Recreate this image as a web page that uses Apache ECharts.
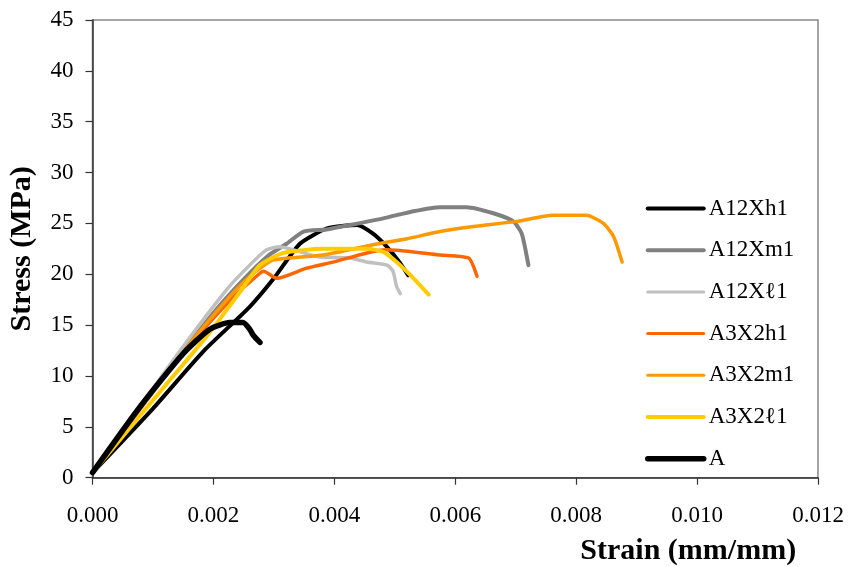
<!DOCTYPE html>
<html>
<head>
<meta charset="utf-8">
<script src="https://cdn.jsdelivr.net/npm/echarts@6/dist/echarts.min.js"></script>
<style>
html,body{margin:0;padding:0;background:#fff;}
#chart{width:848px;height:567px;}
</style>
</head>
<body>
<div id="chart"></div>
<script>
// Series names (legend order)
const seriesNames = ['A12Xh1', 'A12Xm1', 'A12X\u21131', 'A3X2h1', 'A3X2m1', 'A3X2\u21131', 'A'];
const seriesColors = ['#000000', '#808080', '#C0C0C0', '#FF6600', '#FF9900', '#FFCC00', '#000000'];

// Axis ticks
const xTicks = [0.000, 0.002, 0.004, 0.006, 0.008, 0.010, 0.012];
const yTicks = [0, 5, 10, 15, 20, 25, 30, 35, 40, 45];

// A12Xh1
const a12xh1Strain = [0, 0.001, 0.00183, 0.0026, 0.0030, 0.00343, 0.00387, 0.0042, 0.00437, 0.00464, 0.00487, 0.00509, 0.00522];
const a12xh1Stress = [0.5, 6.8, 12.4, 16.8, 19.6, 23.0, 24.5, 24.8, 24.85, 24.0, 22.7, 21.1, 19.9];
// A12Xm1
const a12xm1Strain = [0, 0.001, 0.002, 0.0025, 0.0029, 0.00321, 0.00349, 0.00387, 0.00431, 0.00481, 0.00531, 0.00575, 0.00619, 0.00663, 0.00696, 0.0071, 0.00721];
const a12xm1Stress = [0.5, 8.6, 16.2, 19.5, 21.8, 23.0, 24.2, 24.4, 24.9, 25.5, 26.2, 26.6, 26.6, 26.0, 25.2, 24.0, 20.9];
// A12Xl1
const a12xl1Strain = [0, 0.00145, 0.00222, 0.0026, 0.00288, 0.0031, 0.00332, 0.00376, 0.00426, 0.00454, 0.00487, 0.00497, 0.00503, 0.00509];
const a12xl1Stress = [0.5, 12.5, 18.5, 20.9, 22.4, 22.7, 22.4, 21.7, 21.6, 21.2, 20.9, 20.3, 18.8, 18.1];
// A3X2h1
const a3x2h1Strain = [0, 0.0015, 0.0023, 0.00277, 0.00283, 0.00305, 0.00354, 0.00398, 0.00454, 0.00487, 0.00531, 0.00575, 0.00622, 0.00636];
const a3x2h1Stress = [0.5, 12.3, 17.6, 20.1, 20.3, 19.6, 20.6, 21.2, 22.1, 22.4, 22.2, 21.9, 21.6, 19.8];
// A3X2m1
const a3x2m1Strain = [0, 0.00156, 0.00227, 0.00266, 0.00299, 0.00382, 0.00464, 0.0052, 0.00575, 0.0063, 0.00702, 0.00762, 0.00817, 0.00845, 0.00862, 0.00876];
const a3x2m1Stress = [0.5, 12.8, 17.8, 20.1, 21.4, 21.9, 22.9, 23.5, 24.2, 24.7, 25.2, 25.8, 25.8, 25.0, 23.7, 21.2];
// A3X2l1
const a3x2l1Strain = [0, 0.00128, 0.00189, 0.00247, 0.00277, 0.00316, 0.00382, 0.00454, 0.00481, 0.00503, 0.00531, 0.00556];
const a3x2l1Stress = [0.5, 9.6, 13.9, 18.5, 20.9, 22.1, 22.5, 22.5, 22.2, 21.2, 19.6, 18.0];
// A
const aStrain = [0, 0.00079, 0.0015, 0.00194, 0.00227, 0.00249, 0.0026, 0.00266, 0.00277];
const aStress = [0.5, 7.0, 12.2, 14.6, 15.25, 15.25, 14.6, 14.0, 13.3];

const strainSets = [a12xh1Strain, a12xm1Strain, a12xl1Strain, a3x2h1Strain, a3x2m1Strain, a3x2l1Strain, aStrain];
const stressSets = [a12xh1Stress, a12xm1Stress, a12xl1Stress, a3x2h1Stress, a3x2m1Stress, a3x2l1Stress, aStress];
const lineWidths = [4, 4, 3.5, 3.5, 3.5, 4, 5.5];
const legendWidths = [4, 4, 3, 3, 3, 4, 5.5];

const FONT = '"Liberation Serif", "Times New Roman", serif';

const series = seriesNames.map((name, i) => ({
  name: name,
  type: 'line',
  symbol: 'none',
  smooth: 0.2,
  data: strainSets[i].map((s, j) => [s, stressSets[i][j]]),
  lineStyle: { color: seriesColors[i], width: lineWidths[i], cap: 'round', join: 'round' },
  itemStyle: { color: seriesColors[i] }
}));

const chart = echarts.init(document.getElementById('chart'), null, { renderer: 'canvas' });
chart.setOption({
  animation: false,
  backgroundColor: '#ffffff',
  grid: {
    left: 92.5, right: 30, top: 20, bottom: 89.3,
    outerBoundsMode: 'none',
    containLabel: false,
    show: true, borderColor: '#888888', borderWidth: 1.5, backgroundColor: 'transparent'
  },
  legend: {
    orient: 'vertical',
    left: 645,
    top: 197,
    padding: 0,
    itemWidth: 56,
    itemHeight: 14,
    itemGap: 18.7,
    itemTextGap: 5,
    itemStyle: { opacity: 0 },
    textStyle: { fontFamily: FONT, fontSize: 23, color: '#000', lineHeight: 23 },
    data: seriesNames.map((n, i) => ({ name: n, lineStyle: { width: legendWidths[i], cap: 'round' } }))
  },
  xAxis: {
    type: 'value',
    min: xTicks[0],
    max: xTicks[xTicks.length - 1],
    interval: 0.002,
    name: 'Strain (mm/mm)',
    nameLocation: 'middle',
    nameGap: 59,
    nameTextStyle: { fontFamily: FONT, fontSize: 30, fontWeight: 'bold', color: '#000', padding: [0, 0, 0, 466] },
    axisLine: { show: true, onZero: false, lineStyle: { color: '#333', width: 1.5 } },
    axisTick: { show: true, inside: false, length: 7, lineStyle: { color: '#333', width: 1.2 } },
    axisLabel: { fontFamily: FONT, fontSize: 23, color: '#000', margin: 27, formatter: v => v.toFixed(3) },
    splitLine: { show: false }
  },
  yAxis: {
    type: 'value',
    min: yTicks[0],
    max: yTicks[yTicks.length - 1],
    interval: 5,
    name: 'Stress (MPa)',
    nameLocation: 'middle',
    nameGap: 55,
    nameTextStyle: { fontFamily: FONT, fontSize: 30, fontWeight: 'bold', color: '#000' },
    axisLine: { show: true, lineStyle: { color: '#333', width: 1.5 } },
    axisTick: { show: true, inside: false, length: 7, lineStyle: { color: '#333', width: 1.2 } },
    axisLabel: { fontFamily: FONT, fontSize: 23, color: '#000', margin: 19 },
    splitLine: { show: false }
  },
  series: series
});
</script>
</body>
</html>
